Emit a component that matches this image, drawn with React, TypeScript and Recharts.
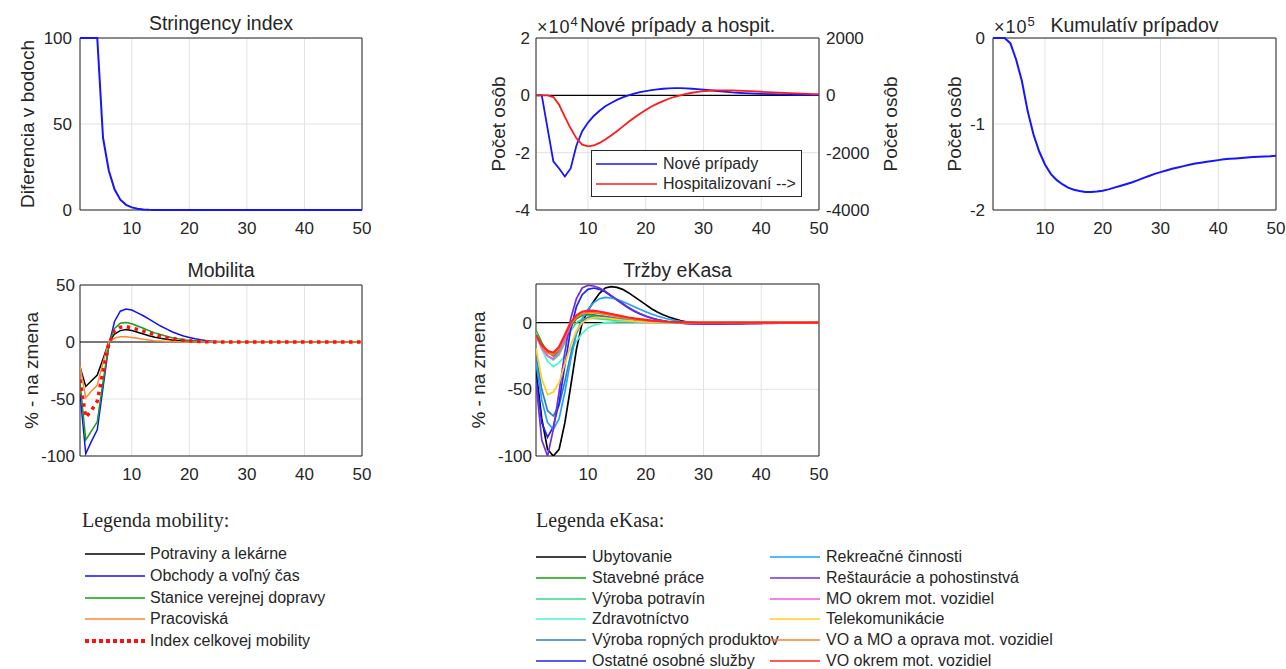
import React from "react";
import {
  LineChart,
  Line,
  XAxis,
  YAxis,
  CartesianGrid,
  ReferenceLine,
  ReferenceArea,
} from "recharts";

// ---- data ----
const days = Array.from({ length: 50 }, (_, i) => i + 1);
const xTicks = [10, 20, 30, 40, 50];

const stringency = [
  100, 100, 100, 100, 42, 23, 12, 6, 3, 1.5,
  0.7, 0.3, 0.1, 0, 0, 0, 0, 0, 0, 0,
  0, 0, 0, 0, 0, 0, 0, 0, 0, 0,
  0, 0, 0, 0, 0, 0, 0, 0, 0, 0,
  0, 0, 0, 0, 0, 0, 0, 0, 0, 0,
];

const newCases = [
  0, 0, -11500, -23000, -25500, -28300, -25500, -17500, -12500, -9500,
  -7200, -5400, -3800, -2700, -1600, -700, 0, 600, 1100, 1500,
  1800, 2100, 2300, 2400, 2500, 2500, 2400, 2300, 2200, 2000,
  1800, 1600, 1400, 1200, 1000, 900, 800, 700, 600, 500,
  450, 400, 350, 300, 250, 200, 180, 150, 120, 100,
];

const hospitalized = [
  0, 0, 0, -60, -330, -750, -1150, -1500, -1720, -1780,
  -1750, -1660, -1540, -1400, -1250, -1090, -930, -780, -640, -510,
  -390, -290, -200, -120, -50, 0, 50, 90, 120, 145,
  160, 170, 175, 175, 170, 165, 155, 145, 135, 125,
  115, 105, 95, 85, 75, 68, 60, 52, 45, 40,
];

const cumulative = [
  0, 0, 0, -6000, -25000, -50000, -85000, -112000, -132000, -147000,
  -158000, -165000, -170000, -174000, -176500, -178000, -179000, -179000, -178500, -177500,
  -176000, -174000, -172000, -170000, -168000, -165500, -163000, -160500, -158000, -156000,
  -154000, -152000, -150500, -149000, -147500, -146000, -145000, -144000, -143000, -142000,
  -141000, -140500, -140000, -139500, -139000, -138500, -138000, -137800, -137500, -137000,
];

const mobNames = [
  "Potraviny a lekárne",
  "Obchody a voľný čas",
  "Stanice verejnej dopravy",
  "Pracoviská",
  "Index celkovej mobility",
];
const mobColors = ["#000000", "#1010ff", "#12a012", "#ff8833", "#ff1010"];

const mobFood = [
  -22, -39, -34, -29, -15, 0, 7, 10, 11, 10,
  8.5, 7, 5.5, 4.2, 3.2, 2.4, 1.7, 1.2, 0.8, 0.5,
  0.3, 0.2, 0.1, 0, 0, 0, 0, 0, 0, 0,
  0, 0, 0, 0, 0, 0, 0, 0, 0, 0,
  0, 0, 0, 0, 0, 0, 0, 0, 0, 0,
];
const mobRetail = [
  -45, -98, -87, -77, -40, -3, 18, 27, 29, 28,
  25.5, 23, 20, 17, 14, 11.5, 9, 7, 5.3, 4,
  2.8, 1.9, 1.2, 0.7, 0.4, 0.2, 0.1, 0, 0, 0,
  0, 0, 0, 0, 0, 0, 0, 0, 0, 0,
  0, 0, 0, 0, 0, 0, 0, 0, 0, 0,
];
const mobTransit = [
  -35, -86, -78, -70, -35, -2, 12, 16.5, 17, 16,
  14, 12, 10, 8, 6.5, 5, 3.8, 2.8, 2, 1.4,
  1, 0.6, 0.4, 0.2, 0.1, 0, 0, 0, 0, 0,
  0, 0, 0, 0, 0, 0, 0, 0, 0, 0,
  0, 0, 0, 0, 0, 0, 0, 0, 0, 0,
];
const mobWork = [
  -21, -49, -43, -38, -18, 0, 3.5, 4.5, 4.5, 4,
  3.2, 2.5, 1.8, 1.2, 0.8, 0.5, 0.3, 0.15, 0, 0,
  0, 0, 0, 0, 0, 0, 0, 0, 0, 0,
  0, 0, 0, 0, 0, 0, 0, 0, 0, 0,
  0, 0, 0, 0, 0, 0, 0, 0, 0, 0,
];
const mobIndex = [
  -33, -66, -60, -52, -26, -2, 10, 13, 13.5, 12.5,
  11, 9.5, 8, 6.5, 5, 4, 3, 2.2, 1.6, 1.1,
  0.7, 0.4, 0.2, 0.1, 0, 0, 0, 0, 0, 0,
  0, 0, 0, 0, 0, 0, 0, 0, 0, 0,
  0, 0, 0, 0, 0, 0, 0, 0, 0, 0,
];
const mobSeries = [mobFood, mobRetail, mobTransit, mobWork, mobIndex];

const ekNames = [
  "Ubytovanie",
  "Stavebné práce",
  "Výroba potravín",
  "Zdravotníctvo",
  "Výroba ropných produktov",
  "Ostatné osobné služby",
  "Rekreačné činnosti",
  "Reštaurácie a pohostinstvá",
  "MO okrem mot. vozidiel",
  "Telekomunikácie",
  "VO a MO a oprava mot. vozidiel",
  "VO okrem mot. vozidiel",
];
const ekColors = [
  "#000000", "#10a010", "#38d888", "#48f5cf", "#2a82b8", "#2020f0",
  "#1ea2ff", "#7030d8", "#ff55d8", "#ffcc22", "#ff7f2a", "#ff2424",
];

const ekUby = [
  -35, -72, -95, -100, -95, -75, -48, -20, 0, 9,
  16, 22, 26, 27, 26.5, 25, 22.5, 19.5, 16.5, 13.5,
  10.5, 8, 6, 4.2, 2.8, 1.6, 0.7, 0.1, -0.3, -0.5,
  -0.6, -0.6, -0.6, -0.55, -0.5, -0.45, -0.4, -0.35, -0.3, -0.25,
  -0.2, -0.18, -0.15, -0.12, -0.1, -0.08, -0.06, -0.05, -0.04, -0.03,
];
const ekStav = [
  -6, -15, -22, -25, -21, -12, -3, 3, 5.5, 6,
  5.8, 5.2, 4.5, 3.8, 3.1, 2.5, 2, 1.6, 1.2, 0.9,
  0.7, 0.5, 0.35, 0.25, 0.15, 0.1, 0.05, 0, 0, 0,
  0, 0, 0, 0, 0, 0, 0, 0, 0, 0,
  0, 0, 0, 0, 0, 0, 0, 0, 0, 0,
];
const ekPotr = [
  -7, -17, -25, -28, -24, -15, -6, 0, 2.5, 3.2,
  3.2, 2.9, 2.5, 2.1, 1.7, 1.4, 1.1, 0.85, 0.65, 0.5,
  0.38, 0.28, 0.2, 0.14, 0.1, 0.05, 0, 0, 0, 0,
  0, 0, 0, 0, 0, 0, 0, 0, 0, 0,
  0, 0, 0, 0, 0, 0, 0, 0, 0, 0,
];
const ekZdrav = [
  -8, -20, -29, -33, -30, -25, -20, -14, -8, -4,
  -2, -0.8, 0, 0.4, 0.6, 0.6, 0.6, 0.5, 0.45, 0.4,
  0.35, 0.3, 0.25, 0.2, 0.15, 0.1, 0.05, 0, 0, 0,
  0, 0, 0, 0, 0, 0, 0, 0, 0, 0,
  0, 0, 0, 0, 0, 0, 0, 0, 0, 0,
];
const ekRopa = [
  -25, -50, -66, -70, -62, -44, -24, -8, 1, 4,
  5, 5, 4.6, 4, 3.4, 2.8, 2.2, 1.7, 1.3, 1,
  0.7, 0.5, 0.3, 0.2, 0.1, 0, 0, 0, 0, 0,
  0, 0, 0, 0, 0, 0, 0, 0, 0, 0,
  0, 0, 0, 0, 0, 0, 0, 0, 0, 0,
];
const ekOstat = [
  -42, -75, -86, -78, -60, -32, -5, 12, 21, 25,
  26, 25, 23, 20, 17, 14, 11, 8.5, 6.5, 4.8,
  3.4, 2.3, 1.4, 0.7, 0.2, -0.2, -0.5, -0.7, -0.8, -0.85,
  -0.85, -0.85, -0.8, -0.75, -0.7, -0.65, -0.6, -0.55, -0.5, -0.45,
  -0.4, -0.36, -0.32, -0.28, -0.25, -0.22, -0.19, -0.16, -0.14, -0.12,
];
const ekRekr = [
  -30, -58, -75, -80, -72, -52, -28, -8, 3, 10,
  15, 18, 19, 18.5, 17.5, 15.8, 14, 12, 10, 8.2,
  6.5, 5, 3.7, 2.6, 1.7, 1, 0.4, 0, -0.3, -0.4,
  -0.5, -0.5, -0.5, -0.45, -0.4, -0.38, -0.35, -0.32, -0.3, -0.27,
  -0.24, -0.22, -0.2, -0.18, -0.16, -0.14, -0.12, -0.1, -0.09, -0.08,
];
const ekResta = [
  -45, -88, -100, -80, -52, -22, 3, 18, 26, 28,
  27.5, 26, 23.5, 20.5, 17.5, 14.5, 11.5, 9, 6.8, 5,
  3.5, 2.3, 1.3, 0.5, 0, -0.4, -0.7, -0.9, -1, -1.1,
  -1.1, -1.1, -1.1, -1, -1, -0.9, -0.85, -0.8, -0.7, -0.65,
  -0.6, -0.5, -0.45, -0.4, -0.35, -0.3, -0.25, -0.2, -0.18, -0.15,
];
const ekMo = [
  -10, -19, -25, -27, -22, -12, -2, 5, 8, 9,
  9, 8.4, 7.5, 6.5, 5.5, 4.6, 3.7, 3, 2.4, 1.9,
  1.5, 1.1, 0.8, 0.6, 0.4, 0.3, 0.2, 0.1, 0, 0,
  0, 0, 0, 0, 0, 0, 0, 0, 0, 0,
  0, 0, 0, 0, 0, 0, 0, 0, 0, 0,
];
const ekTele = [
  -19, -42, -54, -52, -45, -31, -17, -6, 0, 2.8,
  3.8, 3.8, 3.5, 3, 2.5, 2, 1.6, 1.2, 0.9, 0.65,
  0.45, 0.3, 0.2, 0.1, 0.05, 0, 0, 0, 0, 0,
  0, 0, 0, 0, 0, 0, 0, 0, 0, 0,
  0, 0, 0, 0, 0, 0, 0, 0, 0, 0,
];
const ekVoMo = [
  -9, -18, -23, -24, -19, -10, -1, 4, 6.5, 7.3,
  7.3, 6.8, 6.1, 5.3, 4.5, 3.8, 3.1, 2.5, 2, 1.6,
  1.2, 0.9, 0.7, 0.5, 0.35, 0.25, 0.15, 0.1, 0, 0,
  0, 0, 0, 0, 0, 0, 0, 0, 0, 0,
  0, 0, 0, 0, 0, 0, 0, 0, 0, 0,
];
const ekVo = [
  -9, -17, -21, -22.5, -18, -9, 0, 5.5, 8.2, 9,
  8.8, 8.2, 7.4, 6.5, 5.6, 4.7, 3.9, 3.2, 2.6, 2.1,
  1.6, 1.25, 0.95, 0.7, 0.5, 0.35, 0.25, 0.15, 0.1, 0.05,
  0, 0, 0, 0, 0, 0, 0, 0, 0, 0,
  0, 0, 0, 0, 0, 0, 0, 0, 0, 0,
];
const ekSeries = [
  ekUby, ekStav, ekPotr, ekZdrav, ekRopa, ekOstat,
  ekRekr, ekResta, ekMo, ekTele, ekVoMo, ekVo,
];

// ---- tables for recharts ----
const topData = days.map((x, i) => ({
  x,
  stringency: stringency[i],
  cases: newCases[i],
  hosp: hospitalized[i],
  cum: cumulative[i],
}));
const mobData = days.map((x, i) => {
  const row: Record<string, number> = { x };
  mobSeries.forEach((s, k) => (row["m" + k] = s[i]));
  return row;
});
const ekData = days.map((x, i) => {
  const row: Record<string, number> = { x };
  ekSeries.forEach((s, k) => (row["e" + k] = s[i]));
  return row;
});

// ---- styling ----
const FONT = '"Liberation Sans", Arial, Helvetica, sans-serif';
const INK = "#262626";
const GRID = "#e2e2e2";
const AXW = 70;
const TOPM = 10;
const XH = 32;
const tickStyle = { fontSize: 17, fill: INK };

function frame(x0: number, y0: number, w: number, h: number, rw = 12, rightAxis = false) {
  return {
    style: { position: "absolute" as const, left: x0 - AXW, top: y0 - TOPM },
    width: AXW + w + rw,
    height: TOPM + h + XH,
    margin: { top: TOPM, right: rightAxis ? 0 : rw, bottom: 0, left: 0 },
  };
}

const yLabel = (value: string, offset: number, position = "insideLeft") => ({
  value,
  angle: -90,
  position,
  offset,
  style: { textAnchor: "middle", fontSize: 19, fill: INK },
});

function xAxis() {
  return (
    <XAxis
      type="number"
      dataKey="x"
      domain={[1, 50]}
      ticks={xTicks}
      interval={0}
      tick={tickStyle}
      tickLine={false}
      axisLine={false}
      tickSize={0}
      tickMargin={12}
      height={XH}
      allowDataOverflow
    />
  );
}

function Title({ x0, w, base, text }: { x0: number; w: number; base: number; text: string }) {
  return (
    <div
      style={{
        position: "absolute",
        left: x0,
        width: w,
        top: base - 16.5,
        textAlign: "center",
        fontSize: 19.5,
        lineHeight: "19.5px",
        color: INK,
        whiteSpace: "nowrap",
      }}
    >
      {text}
    </div>
  );
}

function Exponent({ x, base, exp }: { x: number; base: number; exp: string }) {
  return (
    <div
      style={{
        position: "absolute",
        left: x,
        top: base - 15.2,
        fontSize: 18,
        lineHeight: "18px",
        letterSpacing: 1,
        color: INK,
        whiteSpace: "nowrap",
      }}
    >
      ×10
      <span style={{ position: "relative", top: -7, fontSize: 13 }}>{exp}</span>
    </div>
  );
}

function KeyRow({
  x, cy, lineW, gap, color, name, dotted,
}: {
  x: number; cy: number; lineW: number; gap: number; color: string; name: string; dotted?: boolean;
}) {
  return (
    <div
      style={{
        position: "absolute",
        left: x,
        top: cy - 11,
        height: 22,
        display: "flex",
        alignItems: "center",
        whiteSpace: "nowrap",
        fontSize: 16,
        lineHeight: "22px",
        color: INK,
      }}
    >
      <svg width={lineW} height={8} style={{ marginRight: gap }}>
        <line
          x1={0}
          x2={lineW}
          y1={4}
          y2={4}
          stroke={color}
          strokeWidth={dotted ? 4 : 1.5}
          strokeDasharray={dotted ? "4 3" : undefined}
        />
      </svg>
      <span>{name}</span>
    </div>
  );
}

export default function App() {
  const f1 = frame(80, 38, 282, 172);
  const f2 = frame(536, 38, 283, 172, 90, true);
  const f3 = frame(993, 38, 283, 172, 10);
  const f4 = frame(80, 285, 282, 171);
  const f5 = frame(536, 284, 283, 172);

  return (
    <div
      style={{
        position: "absolute",
        left: 0,
        top: 0,
        width: 1286,
        height: 669,
        overflow: "hidden",
        background: "#ffffff",
        fontFamily: FONT,
      }}
    >
      {/* Stringency index */}
      <div style={f1.style}>
        <LineChart width={f1.width} height={f1.height} data={topData} margin={f1.margin}>
          <CartesianGrid stroke={GRID} />
          {xAxis()}
          <YAxis
            type="number"
            domain={[0, 100]}
            ticks={[0, 50, 100]}
            interval={0}
            width={AXW}
            tick={tickStyle}
            tickLine={false}
            axisLine={false}
            tickSize={0}
            tickMargin={8}
            label={yLabel("Diferencia v bodoch", 17.5)}
          />
          <ReferenceArea x1={1} x2={50} y1={0} y2={100} fill="none" stroke={INK} strokeWidth={1} />
          <Line type="linear" dataKey="stringency" stroke="#1515ff" strokeWidth={2} dot={false} isAnimationActive={false} />
        </LineChart>
      </div>

      {/* Nové prípady a hospit. */}
      <div style={f2.style}>
        <LineChart width={f2.width} height={f2.height} data={topData} margin={f2.margin}>
          <CartesianGrid stroke={GRID} yAxisId="left" />
          {xAxis()}
          <YAxis
            yAxisId="left"
            type="number"
            domain={[-40000, 20000]}
            ticks={[-40000, -20000, 0, 20000]}
            interval={0}
            width={AXW}
            tick={tickStyle}
            tickLine={false}
            axisLine={false}
            tickSize={0}
            tickMargin={6}
            tickFormatter={(v: number) => String(v / 10000)}
            label={yLabel("Počet osôb", 32)}
          />
          <YAxis
            yAxisId="right"
            orientation="right"
            type="number"
            domain={[-4000, 2000]}
            ticks={[-4000, -2000, 0, 2000]}
            interval={0}
            width={90}
            tick={tickStyle}
            tickLine={false}
            axisLine={false}
            tickSize={0}
            tickMargin={7}
            label={yLabel("Počet osôb", 19, "insideRight")}
          />
          <ReferenceArea yAxisId="left" x1={1} x2={50} y1={-40000} y2={20000} fill="none" stroke={INK} strokeWidth={1} />
          <ReferenceLine yAxisId="left" y={0} stroke="#000000" strokeWidth={1.2} />
          <Line yAxisId="left" type="linear" dataKey="cases" stroke="#1515ff" strokeWidth={1.8} dot={false} isAnimationActive={false} />
          <Line yAxisId="right" type="linear" dataKey="hosp" stroke="#ff1a1a" strokeWidth={1.8} dot={false} isAnimationActive={false} />
        </LineChart>
      </div>

      {/* legend inside panel 2 */}
      <div
        style={{
          position: "absolute",
          left: 591,
          top: 150,
          width: 211,
          height: 47,
          boxSizing: "border-box",
          border: `1px solid ${INK}`,
          background: "#ffffff",
        }}
      >
        <KeyRow x={4} cy={13} lineW={61} gap={6} color="#1515ff" name="Nové prípady" />
        <KeyRow x={4} cy={33} lineW={61} gap={6} color="#ff1a1a" name="Hospitalizovaní -->" />
      </div>

      {/* Kumulatív prípadov */}
      <div style={f3.style}>
        <LineChart width={f3.width} height={f3.height} data={topData} margin={f3.margin}>
          <CartesianGrid stroke={GRID} />
          {xAxis()}
          <YAxis
            type="number"
            domain={[-200000, 0]}
            ticks={[-200000, -100000, 0]}
            interval={0}
            width={AXW}
            tick={tickStyle}
            tickLine={false}
            axisLine={false}
            tickSize={0}
            tickMargin={8}
            tickFormatter={(v: number) => String(v / 100000)}
            label={yLabel("Počet osôb", 31)}
          />
          <ReferenceArea x1={1} x2={50} y1={-200000} y2={0} fill="none" stroke={INK} strokeWidth={1} />
          <Line type="linear" dataKey="cum" stroke="#1515ff" strokeWidth={2} dot={false} isAnimationActive={false} />
        </LineChart>
      </div>

      {/* Mobilita */}
      <div style={f4.style}>
        <LineChart width={f4.width} height={f4.height} data={mobData} margin={f4.margin}>
          <CartesianGrid stroke={GRID} />
          {xAxis()}
          <YAxis
            type="number"
            domain={[-100, 50]}
            ticks={[-100, -50, 0, 50]}
            interval={0}
            width={AXW}
            tick={tickStyle}
            tickLine={false}
            axisLine={false}
            tickSize={0}
            tickMargin={5}
            label={yLabel("% - na zmena", 21)}
          />
          <ReferenceArea x1={1} x2={50} y1={-100} y2={50} fill="none" stroke={INK} strokeWidth={1} />
          <ReferenceLine y={0} stroke="#000000" strokeWidth={1.2} />
          {mobSeries.map((_, k) => (
            <Line
              key={k}
              type="linear"
              dataKey={"m" + k}
              stroke={mobColors[k]}
              strokeWidth={k === 4 ? 3.5 : 1.5}
              strokeDasharray={k === 4 ? "3.5 4.5" : undefined}
              dot={false}
              isAnimationActive={false}
            />
          ))}
        </LineChart>
      </div>

      {/* Tržby eKasa */}
      <div style={f5.style}>
        <LineChart width={f5.width} height={f5.height} data={ekData} margin={f5.margin}>
          <CartesianGrid stroke={GRID} />
          {xAxis()}
          <YAxis
            type="number"
            domain={[-100, 29]}
            ticks={[-100, -50, 0]}
            interval={0}
            width={AXW}
            tick={tickStyle}
            tickLine={false}
            axisLine={false}
            tickSize={0}
            tickMargin={4}
            allowDataOverflow
            label={yLabel("% - na zmena", 12)}
          />
          <ReferenceArea x1={1} x2={50} y1={-100} y2={29} fill="none" stroke={INK} strokeWidth={1} />
          <ReferenceLine y={0} stroke="#000000" strokeWidth={1.2} />
          {ekSeries.map((_, k) => (
            <Line
              key={k}
              type="linear"
              dataKey={"e" + k}
              stroke={ekColors[k]}
              strokeWidth={k === 11 ? 2.2 : 1.7}
              dot={false}
              isAnimationActive={false}
            />
          ))}
        </LineChart>
      </div>

      {/* titles */}
      <Title x0={80} w={282} base={30} text="Stringency index" />
      <Title x0={536} w={283} base={32.5} text="Nové prípady a hospit." />
      <Title x0={993} w={283} base={32} text="Kumulatív prípadov" />
      <Title x0={80} w={282} base={277} text="Mobilita" />
      <Title x0={536} w={283} base={277} text="Tržby eKasa" />
      <Exponent x={537} base={33} exp="4" />
      <Exponent x={994} base={33} exp="5" />

      {/* bottom legends */}
      <div
        style={{
          position: "absolute",
          left: 82,
          top: 510,
          fontFamily: '"Liberation Serif", "Times New Roman", serif',
          fontSize: 20,
          lineHeight: "20px",
          color: INK,
          whiteSpace: "nowrap",
        }}
      >
        Legenda mobility:
      </div>
      {mobNames.map((n, k) => (
        <KeyRow
          key={n}
          x={85}
          cy={554 + k * 21.75}
          lineW={60}
          gap={5}
          color={mobColors[k]}
          name={n}
          dotted={k === 4}
        />
      ))}

      <div
        style={{
          position: "absolute",
          left: 536,
          top: 510,
          fontFamily: '"Liberation Serif", "Times New Roman", serif',
          fontSize: 20,
          lineHeight: "20px",
          color: INK,
          whiteSpace: "nowrap",
        }}
      >
        Legenda eKasa:
      </div>
      {ekNames.map((n, k) => (
        <KeyRow
          key={n}
          x={k < 6 ? 536 : 770}
          cy={557 + (k % 6) * 20.8}
          lineW={50}
          gap={6}
          color={ekColors[k]}
          name={n}
        />
      ))}
    </div>
  );
}
